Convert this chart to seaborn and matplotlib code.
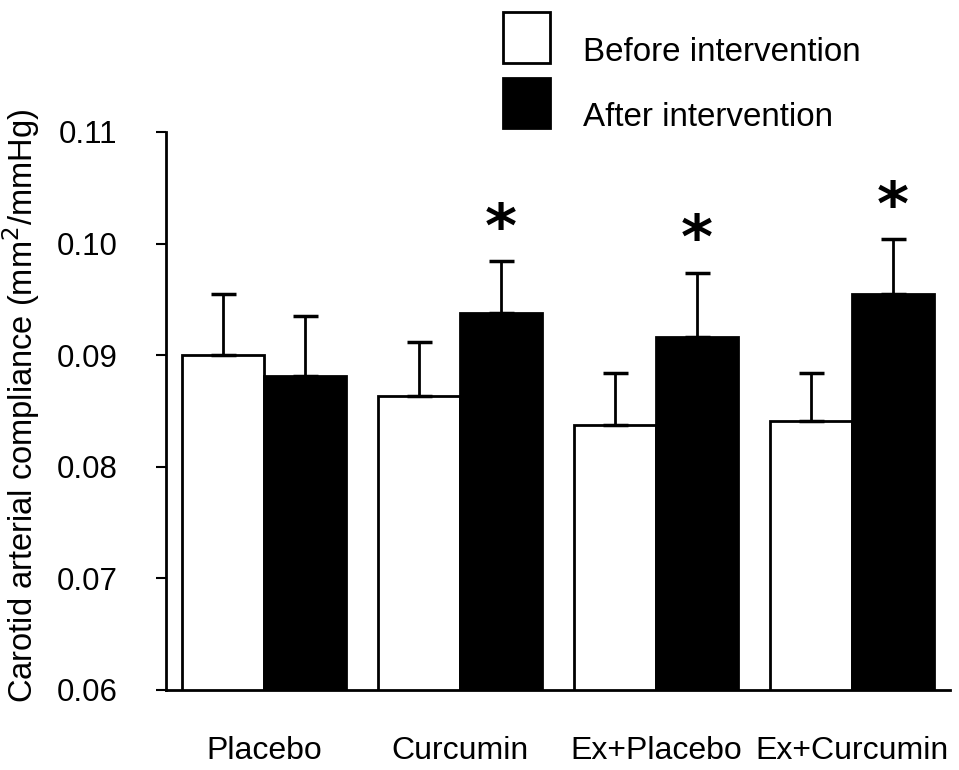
import numpy as np
import pandas as pd
import seaborn as sns
import matplotlib.pyplot as plt
from matplotlib.patches import Patch
from matplotlib.transforms import ScaledTranslation

groups = ["Placebo", "Curcumin", "Ex+Placebo", "Ex+Curcumin"]
phases = ["Before intervention", "After intervention"]
before_mean = [0.0900, 0.0863, 0.0837, 0.0841]
before_err = [0.0055, 0.0049, 0.0047, 0.0043]
after_mean = [0.0881, 0.0938, 0.0916, 0.0955]
after_err = [0.0054, 0.0046, 0.0058, 0.0049]
significant = [False, True, True, True]

df = pd.DataFrame({
    "group": groups * 2,
    "phase": [phases[0]] * 4 + [phases[1]] * 4,
    "value": before_mean + after_mean,
})

sns.set_style("ticks")
plt.rcParams["font.family"] = ["Liberation Sans", "DejaVu Sans"]
plt.rcParams["text.color"] = "black"
plt.rcParams["axes.labelcolor"] = "black"
plt.rcParams["xtick.color"] = "black"
plt.rcParams["ytick.color"] = "black"

fig = plt.figure(figsize=(9.59, 7.70), dpi=100)
ax = fig.add_axes([0.1731, 0.1039, 0.8175, 0.7247])

sns.barplot(data=df, x="group", y="value", hue="phase", order=groups,
            hue_order=phases, palette=["white", "black"], edgecolor="black",
            linewidth=2, width=0.835, errorbar=None, legend=False, ax=ax)

# one-sided error bars on top of each bar
for cont, err in zip(ax.containers, [before_err, after_err]):
    xs = [p.get_x() + p.get_width() / 2 for p in cont.patches]
    ys = [p.get_height() + p.get_y() for p in cont.patches]
    ax.errorbar(xs, ys, yerr=[np.zeros(len(err)), err], fmt="none",
                ecolor="black", elinewidth=2, capsize=9, capthick=2.5)

# asterisks above the "after" bars
for p, e, sig in zip(ax.containers[1].patches, after_err, significant):
    if sig:
        x = p.get_x() + p.get_width() / 2
        ax.text(x, p.get_height() + p.get_y() + e + 0.0013, "*", ha="center",
                va="baseline", fontsize=44, fontweight="bold",
                family="DejaVu Sans", color="black")

ax.set_ylim(0.06, 0.11)
ax.set_xlim(-0.5, 3.5)
ax.set_yticks([0.06, 0.07, 0.08, 0.09, 0.10, 0.11])
ax.set_yticklabels(["0.06", "0.07", "0.08", "0.09", "0.10", "0.11"])
ax.tick_params(axis="y", labelsize=22.5, length=7, width=1.5, direction="out", pad=28)
ax.tick_params(axis="x", labelsize=23, length=0, pad=33)
ax.set_xlabel("")
ax.set_ylabel("Carotid arterial compliance (mm$^2$/mmHg)", fontsize=23.5)
ax.yaxis.set_label_coords(-0.158, 0.509)
sns.despine(ax=ax)
for s in ["left", "bottom"]:
    ax.spines[s].set_linewidth(2)
    ax.spines[s].set_color("black")

handles = [Patch(facecolor="white", edgecolor="black", linewidth=2),
           Patch(facecolor="black", edgecolor="black", linewidth=2)]
leg = fig.legend(handles, phases, loc="upper left",
                 bbox_to_anchor=(503 / 959, 1 - 12 / 770),
                 frameon=False, fontsize=23.9, handlelength=1.42, handleheight=1.97,
                 handletextpad=1.0, labelspacing=0.45, borderpad=0, borderaxespad=0)
# labels sit a little below the middle of their boxes
for t in leg.get_texts():
    t.set_transform(t.get_transform() + ScaledTranslation(0, -0.13, fig.dpi_scale_trans))

fig.savefig("out.png", dpi=100)
